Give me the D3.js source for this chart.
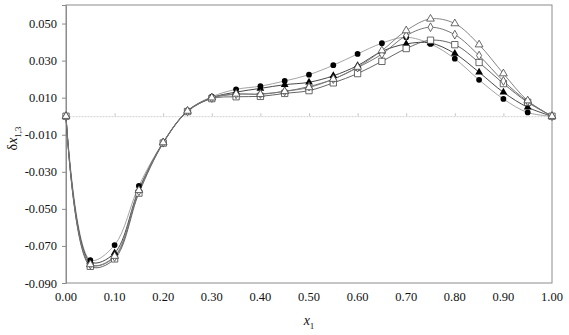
<!DOCTYPE html>
<html>
<head>
<meta charset="utf-8">
<script src="https://cdn.jsdelivr.net/npm/d3@7"></script>
<style>
  body { margin: 0; background: #fff; }
  text { font-family: "Liberation Serif", "DejaVu Serif", serif; fill: #111; }
</style>
</head>
<body>
<div id="container"></div>
<script>
// composition points
const xValues = [0, 0.05, 0.10, 0.15, 0.20, 0.25, 0.30, 0.35, 0.40, 0.45, 0.50,
                 0.55, 0.60, 0.65, 0.70, 0.75, 0.80, 0.85, 0.90, 0.95, 1.00];

// series
const filledCircle = [0, -0.0776, -0.0695, -0.0376, -0.0140, 0.0030, 0.0105, 0.0145, 0.0162, 0.0190, 0.0224,
                      0.0275, 0.0336, 0.0394, 0.0426, 0.0390, 0.0310, 0.0196, 0.0093, 0.0020, 0];
const filledTriangle = [0, -0.0786, -0.0738, -0.0395, -0.0142, 0.0028, 0.0100, 0.0130, 0.0150, 0.0170, 0.0183,
                        0.0218, 0.0273, 0.0350, 0.0390, 0.0395, 0.0338, 0.0237, 0.0129, 0.0048, 0];
const openSquare = [0, -0.0810, -0.0770, -0.0415, -0.0145, 0.0025, 0.0095, 0.0105, 0.0107, 0.0123, 0.0138,
                    0.0180, 0.0230, 0.0296, 0.0365, 0.0410, 0.0386, 0.0290, 0.0176, 0.0075, 0];
const openDiamond = [0, -0.0800, -0.0760, -0.0405, -0.0143, 0.0027, 0.0098, 0.0118, 0.0120, 0.0134, 0.0160,
                     0.0200, 0.0262, 0.0335, 0.0435, 0.0480, 0.0440, 0.0327, 0.0190, 0.0080, 0];
const openTriangle = [0, -0.0800, -0.0755, -0.0400, -0.0142, 0.0028, 0.0100, 0.0120, 0.0118, 0.0134, 0.0155,
                      0.0200, 0.0265, 0.0354, 0.0462, 0.0525, 0.0500, 0.0386, 0.0230, 0.0084, 0];

const xTicks = [0, 0.1, 0.2, 0.3, 0.4, 0.5, 0.6, 0.7, 0.8, 0.9, 1.0];
const yTicks = [-0.09, -0.07, -0.05, -0.03, -0.01, 0.01, 0.03, 0.05];

const width = 569, height = 335;
const margin = {top: 5, right: 17, bottom: 52, left: 66};
const w = width - margin.left - margin.right;
const h = height - margin.top - margin.bottom;

const series = [
    {name: "circleFilled", values: filledCircle, symbol: d3.symbolCircle, size: 26, fill: "#000", stroke: "none", line: "#9a9a9a"},
    {name: "triangleFilled", values: filledTriangle, symbol: d3.symbolTriangle, size: 26, fill: "#000", stroke: "none", line: "#333"},
    {name: "squareOpen", values: openSquare, symbol: d3.symbolSquare, size: 40, fill: "#fff", stroke: "#444", line: "#555"},
    {name: "diamondOpen", values: openDiamond, symbol: d3.symbolDiamond, size: 22, fill: "#fff", stroke: "#444", line: "#666"},
    {name: "triangleOpen", values: openTriangle, symbol: d3.symbolTriangle, size: 26, fill: "#fff", stroke: "#444", line: "#777"}
];

const x = d3.scaleLinear().domain([0, 1]).range([0, w]);
const y = d3.scaleLinear().domain([-0.09, 0.06]).range([h, 0]);

const svg = d3.select("#container")
    .append("svg")
    .attr("width", width)
    .attr("height", height);

const g = svg.append("g").attr("transform", "translate(" + [margin.left, margin.top] + ")");

// plot frame
g.append("rect")
    .attr("x", 0).attr("y", 0)
    .attr("width", w).attr("height", h)
    .attr("fill", "none")
    .attr("stroke", "#8c8c8c")
    .attr("stroke-width", 1);

// y axis
const yAxis = g.append("g")
    .call(d3.axisLeft(y).tickValues(yTicks).tickSize(4).tickFormat(d3.format(".3f")));
yAxis.select(".domain").attr("stroke", "#8c8c8c");
yAxis.selectAll(".tick line").attr("stroke", "#8c8c8c");
yAxis.selectAll(".tick text")
    .attr("x", -9)
    .style("font-size", "12.5px")
    .style("font-family", "Liberation Serif, serif")
    .text(d => d3.format(".3f")(d).replace("\u2212", "-"));

// zero line with x ticks
const zeroAxis = g.append("g")
    .attr("transform", "translate(0," + y(0) + ")")
    .call(d3.axisBottom(x).tickValues(xTicks).tickSize(0).tickFormat(""));
zeroAxis.select(".domain").attr("stroke", "#d0d0d0").attr("stroke-dasharray", "2,1");
zeroAxis.selectAll(".tick line")
    .attr("y1", -3).attr("y2", 0)
    .attr("stroke", "#c8c8c8");

// x tick labels below the frame
g.append("g")
    .selectAll("text")
    .data(xTicks)
    .enter()
    .append("text")
    .attr("x", d => x(d))
    .attr("y", h + 18)
    .attr("text-anchor", "middle")
    .style("font-size", "12.5px")
    .text(d => d3.format(".2f")(d));

// curves
const line = d3.line()
    .x((d, i) => x(xValues[i]))
    .y(d => y(d))
    .curve(d3.curveCatmullRom.alpha(0.5));

series.forEach(s => {
    g.append("path")
        .datum(s.values)
        .attr("fill", "none")
        .attr("stroke", s.line)
        .attr("stroke-width", 0.9)
        .attr("d", line);
});

// markers
series.forEach(s => {
    g.append("g")
        .attr("class", s.name)
        .selectAll("path")
        .data(s.values)
        .enter()
        .append("path")
        .attr("transform", (d, i) => `translate(${[x(xValues[i]), y(d)]})`)
        .attr("d", d3.symbol().type(s.symbol).size(s.size))
        .attr("fill", s.fill)
        .attr("stroke", s.stroke)
        .attr("stroke-width", 0.8);
});

// axis titles
const yTitle = svg.append("text")
    .attr("transform", "translate(17," + (margin.top + y(-0.012)) + ") rotate(-90)")
    .attr("text-anchor", "middle")
    .style("font-size", "14px");
yTitle.append("tspan").text("\u03b4");
yTitle.append("tspan").style("font-style", "italic").text("x");
yTitle.append("tspan").attr("dy", 4).style("font-size", "9px").text("1,3");

const xTitle = svg.append("text")
    .attr("x", margin.left + x(0.5))
    .attr("y", 325)
    .attr("text-anchor", "middle")
    .style("font-size", "14px");
xTitle.append("tspan").style("font-style", "italic").text("x");
xTitle.append("tspan").attr("dy", 4).style("font-size", "9px").text("1");
</script>
</body>
</html>
